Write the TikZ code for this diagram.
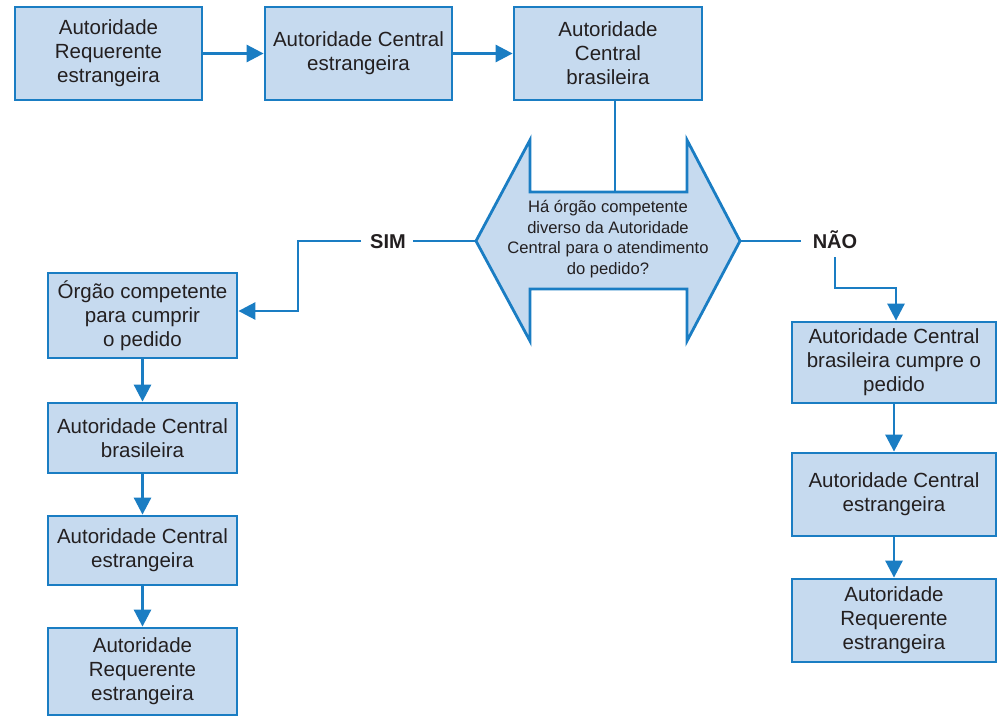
\documentclass[tikz,border=0pt]{standalone}
\usepackage{fontspec}
\setmainfont{Liberation Sans}
\usetikzlibrary{arrows.meta}
\definecolor{bord}{HTML}{1A7DC3}
\definecolor{boxfill}{HTML}{C6DAEF}
\definecolor{txt}{HTML}{231F20}
\tikzset{
  fbox/.style={draw=bord, fill=boxfill, line width=2.8pt, align=center, text=txt,
    font=\fontsize{20.5}{24}\selectfont, inner sep=0pt, minimum width=#1},
  fbox/.default=188pt,
  conn/.style={draw=bord, line width=2.8pt},
  arr/.style={conn, -{Triangle[length=17pt,width=17pt]}},
  lab/.style={font=\bfseries\fontsize{20}{24}\selectfont, text=txt, inner sep=0pt}
}
\begin{document}
\begin{tikzpicture}[x=1pt,y=-1pt]
\useasboundingbox (0,0) rectangle (998,717);
% top row
\node[fbox=187pt, minimum height=93pt] (b1) at (108.5,53.5) {Autoridade\\Requerente\\estrangeira};
\node[fbox=187pt, minimum height=93pt] (b2) at (358.5,53.5) {Autoridade Central\\estrangeira};
\node[fbox=188pt, minimum height=93pt] (b3) at (608,53.5) {Autoridade\\Central\\brasileira};
\draw[arr] (b1.east) -- (b2.west);
\draw[arr] (b2.east) -- (b3.west);
% double arrow
\coordinate (ltip) at (476,241);
\coordinate (rtip) at (740,241);
\coordinate (topn) at (615,192);
\draw[draw=bord, fill=boxfill, line width=2.8pt, line join=miter]
  (ltip) -- (530,140) -- (530,192) -- (687,192) -- (687,140) -- (rtip)
  -- (687,341) -- (687,289) -- (530,289) -- (530,341) -- cycle;
\node[align=center, text=txt, font=\fontsize{16.6}{20.5}\selectfont, inner sep=0pt] (q) at (608,239)
  {Há órgão competente\\diverso da Autoridade\\Central para o atendimento\\do pedido?};
\draw[conn] (b3.south -| topn) -- (topn);
% SIM branch
\node[lab] (sim) at (388,242) {SIM};
\coordinate (s1) at (298,241);
\draw[conn] (ltip) -- (413,241);
\node[fbox=189pt, minimum height=85pt] (l1) at (142.5,315.5) {Órgão competente\\para cumprir\\o pedido};
\draw[arr] (361,241) -- (s1) -- (s1 |- 0,311) -- (l1.east |- 0,311);
\node[fbox=189pt, minimum height=70pt] (l2) at (142.5,438) {Autoridade Central\\brasileira};
\node[fbox=189pt, minimum height=69pt] (l3) at (142.5,550.5) {Autoridade Central\\estrangeira};
\node[fbox=189pt, minimum height=87pt] (l4) at (142.5,671.5) {Autoridade\\Requerente\\estrangeira};
\draw[arr] (l1.south) -- (l2.north);
\draw[arr] (l2.south) -- (l3.north);
\draw[arr] (l3.south) -- (l4.north);
% NAO branch
\node[lab] (nao) at (835,240) {NÃO};
\draw[conn] (rtip) -- (801,241);
\node[fbox=204pt, minimum height=81pt] (r1) at (894,362.5) {Autoridade Central\\brasileira cumpre o\\pedido};
\node[fbox=204pt, minimum height=83pt] (r2) at (894,494.5) {Autoridade Central\\estrangeira};
\node[fbox=204pt, minimum height=83pt] (r3) at (894,620.5) {Autoridade\\Requerente\\estrangeira};
\coordinate (n1) at (835,288);
\draw[arr] (nao.south |- 0,257) -- (n1) -- (896,288) -- (896,0 |- r1.north);
\draw[arr] (r1.south) -- (r2.north);
\draw[arr] (r2.south) -- (r3.north);
\end{tikzpicture}
\end{document}
